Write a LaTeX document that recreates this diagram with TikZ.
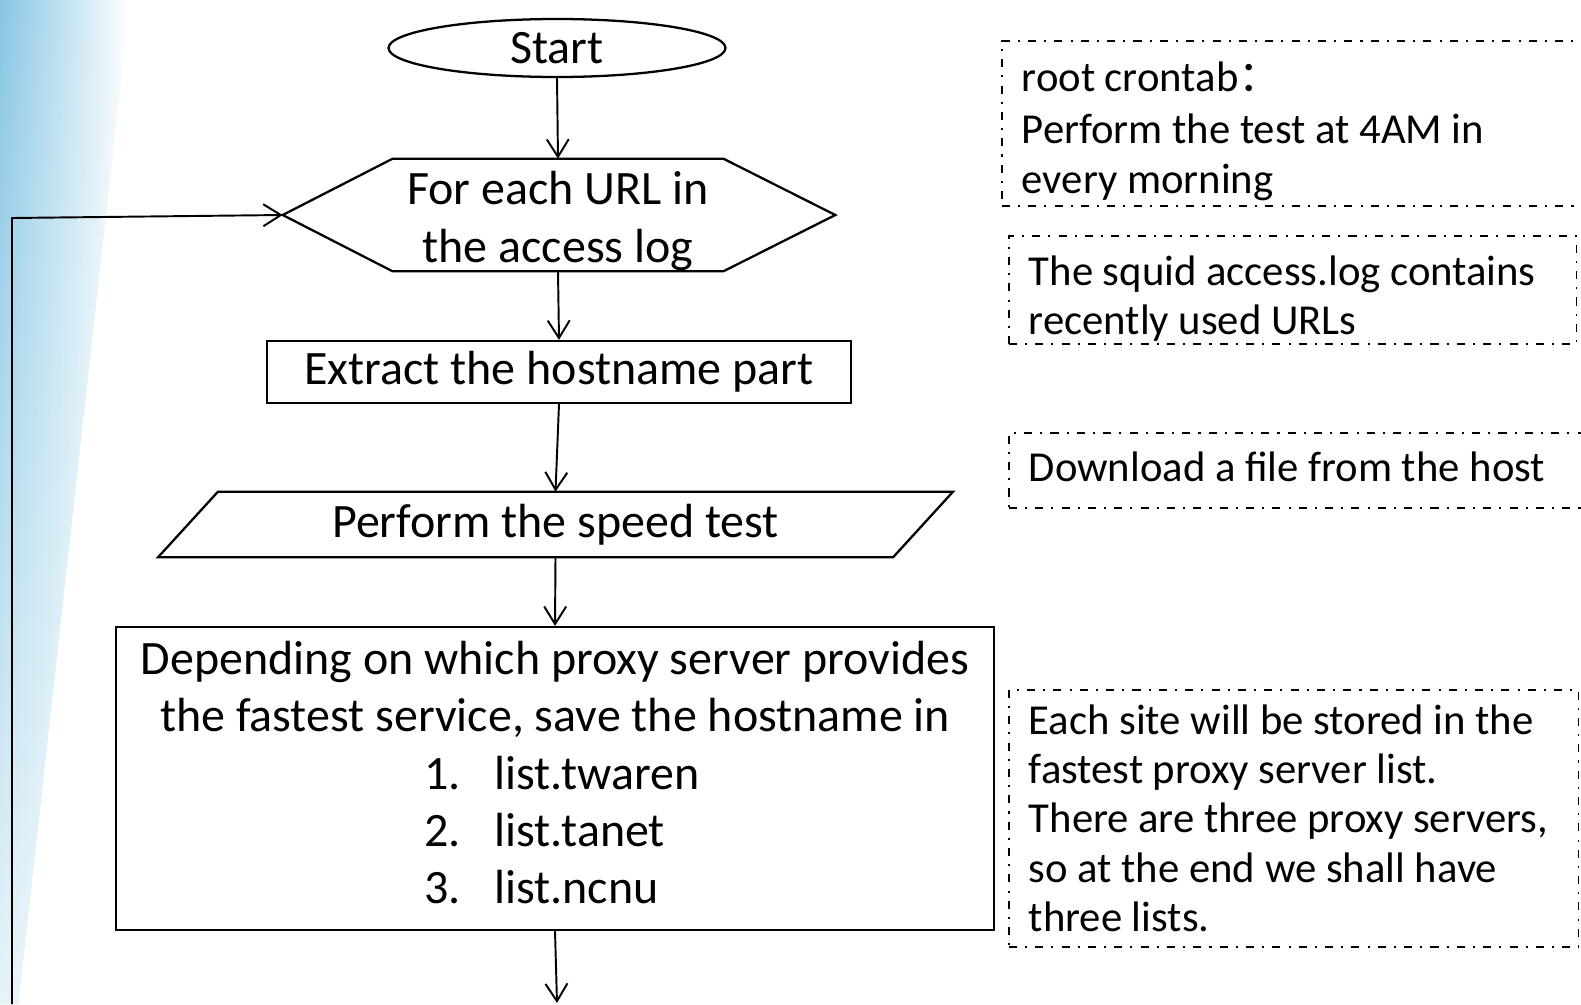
\documentclass[tikz,border=0pt]{standalone}
\usepackage{fontspec}
\setmainfont{Carlito}
\newfontfamily\cjkfont{Noto Sans CJK SC}
\usetikzlibrary{arrows.meta,shapes.geometric,fadings}
\definecolor{bgblue}{RGB}{135,198,228}
\newcommand{\mainfont}{\fontsize{27.3}{32.7}\selectfont}
\newcommand{\notefont}{\fontsize{24.3}{28.1}\selectfont}
\tikzset{
  flowline/.style={line width=1.1pt, -{Straight Barb[length=10pt,width=12.5pt,line width=1.1pt]}},
  shapeline/.style={line width=1.3pt},
  stepbox/.style={draw, shapeline, inner sep=0pt, font=\mainfont},
  notebox/.style={draw, line width=0.9pt, dash pattern=on 4.6pt off 4.6pt on 1.2pt off 4.6pt,
     inner xsep=0.4cm, inner ysep=0pt, align=flush left, anchor=north west, font=\notefont},
}
\begin{document}
\begin{tikzpicture}[x=0.02cm,y=-0.02cm]
\useasboundingbox (0,0) rectangle (1581,1004);
% background gradient on the left edge
\begin{scope}
  \clip (0,0) -- (130,0) -- (18,1004) -- (0,1004) -- cycle;
  \shade[left color=bgblue, right color=white] (0,0) rectangle (130,1004);
  \fill[white, path fading=north, fill opacity=0.8] (0,0) rectangle (130,1004);
\end{scope}

% flow chart
\node[stepbox, ellipse, minimum width=6.74cm, minimum height=1.16cm] (start) at (557,48) {Start};
\node[inner sep=0pt, minimum width=6.6cm, minimum height=2.24cm, align=center, font=\mainfont] (hex) at (558,221)
  {For each URL in\\the access log};
\coordinate (hexL) at ([xshift=-2.2cm,yshift=0.12cm]hex.west);
\coordinate (hexR) at ([xshift=2.24cm,yshift=0.12cm]hex.east);
\draw[shapeline] ([yshift=0.12cm]hex.north west) -- ([yshift=0.12cm]hex.north east) -- (hexR)
  -- ([yshift=0.12cm]hex.south east) -- ([yshift=0.12cm]hex.south west) -- (hexL) -- cycle;
\node[stepbox, rectangle, minimum width=11.68cm, minimum height=1.24cm] (extract) at (559,372) {Extract the hostname part};
\node[inner sep=0pt, minimum width=14.69cm, minimum height=1.3cm, font=\mainfont] (speed) at (555.5,524.5) {Perform the speed test};
\draw[shapeline] ([xshift=0.6cm]speed.north west) -- ([xshift=0.6cm]speed.north east)
  -- ([xshift=-0.6cm]speed.south east) -- ([xshift=-0.6cm]speed.south west) -- cycle;
\node[stepbox, rectangle, minimum width=17.56cm, minimum height=6.06cm, align=center] (save) at (555,778.5)
  {Depending on which proxy server provides\\
   the fastest service, save the hostname in\\
   \makebox[149pt][l]{\makebox[40pt][l]{1.}list.twaren}\\
   \makebox[149pt][l]{\makebox[40pt][l]{2.}list.tanet}\\
   \makebox[149pt][l]{\makebox[40pt][l]{3.}list.ncnu}\rule[-7pt]{0pt}{0pt}};
\coordinate (next) at (557,1003);
\coordinate (loopB) at (12,1004);
\coordinate (loopT) at (12,218);

\draw[flowline] (start.south) -- ([yshift=0.12cm]hex.north);
\draw[flowline] ([yshift=0.12cm]hex.south) -- (extract.north);
\draw[flowline] (extract.south) -- (speed.north);
\draw[flowline] (speed.south) -- (save.north);
\draw[flowline] (save.south) -- (next);
\draw[flowline] (loopB) -- (loopT) -- (hexL);

% notes
\node[notebox, minimum width=12.4cm, minimum height=3.3cm, text width=11.6cm] (n1) at (1001,40)
  {\fontsize{24.3}{29.5}\selectfont\rule{0pt}{26pt}root crontab{\cjkfont ：}\\Perform the test at 4AM in\\every morning};
\node[notebox, minimum width=11.36cm, minimum height=2.16cm, text width=10.56cm] (n2) at (1008,235)
  {\rule{0pt}{27pt}The squid access.log contains\\recently used URLs};
\node[notebox, minimum width=12.4cm, minimum height=1.5cm, text width=11.6cm] (n3) at (1008,432)
  {Download a file from the host\rule[-4.6pt]{0pt}{0pt}};
\node[notebox, minimum width=11.4cm, minimum height=5.14cm, text width=10.6cm] (n4) at (1008,689)
  {Each site will be stored in the\\fastest proxy server list.\\There are three proxy servers,\\so at the end we shall have\\three lists.};
\end{tikzpicture}
\end{document}
